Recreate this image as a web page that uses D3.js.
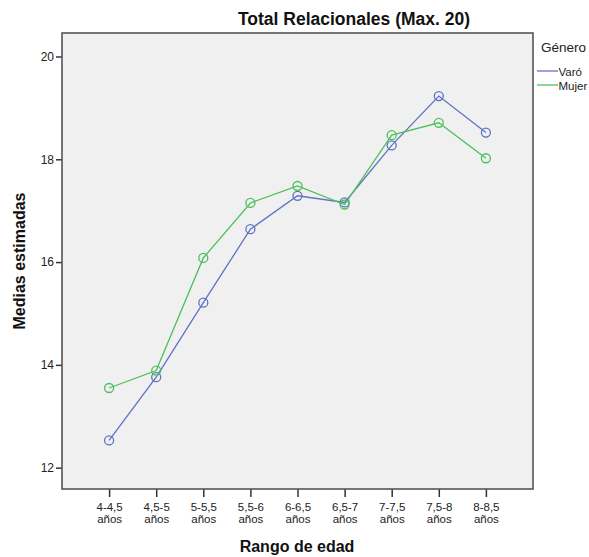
<!DOCTYPE html>
<html><head><meta charset="utf-8">
<script src="https://cdn.jsdelivr.net/npm/d3@7"></script>
<style>html,body{margin:0;padding:0;background:#fff;overflow:hidden}</style>
</head><body>
<svg id="c" width="589" height="557"></svg>
<script>
const categories = ["4-4,5 años","4,5-5 años","5-5,5 años","5,5-6 años","6-6,5 años","6,5-7 años","7-7,5 años","7,5-8 años","8-8,5 años"];
const varon = [12.53, 13.76, 15.21, 16.64, 17.29, 17.16, 18.27, 19.23, 18.52];
const mujer = [13.55, 13.89, 16.08, 17.15, 17.48, 17.12, 18.47, 18.71, 18.02];
const seriesNames = ["Varó", "Mujer"];
const yTicks = [12, 14, 16, 18, 20];
const colors = ["#5f72c4", "#4cc05a"];

const svg = d3.select("#c");
const L = 62, R = 533, T = 33, B = 489;
const x = d3.scalePoint().domain(categories).range([L, R]).padding(1);
const y = d3.scaleLinear().domain([11.585, 20.457]).range([B, T]);
const font = "'Liberation Sans', Arial, sans-serif";

svg.append("rect").attr("x", L).attr("y", T).attr("width", R - L).attr("height", B - T)
  .attr("fill", "#f0f0f0");

// y axis
const ya = svg.append("g").attr("transform", `translate(${L},0)`)
  .call(d3.axisLeft(y).tickValues(yTicks).tickSize(6).tickPadding(2));
ya.select(".domain").remove();
ya.selectAll("line").attr("stroke", "#333").attr("stroke-width", 1.5);
ya.selectAll("text").attr("font-family", font).attr("font-size", 12).attr("fill", "#222");

// x axis
const xa = svg.append("g").attr("transform", `translate(0,${B})`)
  .call(d3.axisBottom(x).tickSize(8).tickFormat(""));
xa.select(".domain").remove();
xa.selectAll("line").attr("stroke", "#333").attr("stroke-width", 1.5);
xa.selectAll(".tick").each(function(d) {
  const g = d3.select(this);
  const parts = d.split(" ");
  parts.forEach((p, i) => {
    g.append("text").attr("x", 0).attr("y", 22 + i * 11.5).attr("text-anchor", "middle")
      .attr("font-family", font).attr("font-size", 11.5).attr("fill", "#222").text(p);
  });
});

// frame
svg.append("rect").attr("x", L).attr("y", T).attr("width", R - L).attr("height", B - T)
  .attr("fill", "none").attr("stroke", "#555").attr("stroke-width", 1.6);

const data = [varon, mujer];
const line = d3.line().x((d, i) => x(categories[i])).y(d => y(d));
data.forEach((s, k) => {
  svg.append("path").datum(s).attr("d", line).attr("fill", "none")
    .attr("stroke", colors[k]).attr("stroke-width", 1.3);
  svg.selectAll(null).data(s).enter().append("circle")
    .attr("cx", (d, i) => x(categories[i])).attr("cy", d => y(d)).attr("r", 4.5)
    .attr("fill", "none").attr("stroke", colors[k]).attr("stroke-width", 1.3);
});

// titles
svg.append("text").attr("x", 354).attr("y", 25).attr("text-anchor", "middle")
  .attr("font-family", font).attr("font-weight", "bold").attr("font-size", 17.5)
  .attr("fill", "#111").text("Total Relacionales (Max. 20)");
svg.append("text").attr("x", 297).attr("y", 552).attr("text-anchor", "middle")
  .attr("font-family", font).attr("font-weight", "bold").attr("font-size", 16)
  .attr("fill", "#111").text("Rango de edad");
svg.append("text").attr("transform", "translate(25,261) rotate(-90)").attr("text-anchor", "middle")
  .attr("font-family", font).attr("font-weight", "bold").attr("font-size", 16)
  .attr("fill", "#111").text("Medias estimadas");

// legend
svg.append("text").attr("x", 541).attr("y", 52).attr("font-family", font)
  .attr("font-size", 13.5).attr("fill", "#222").text("Género");
seriesNames.forEach((n, k) => {
  const yy = 71 + k * 14;
  svg.append("line").attr("x1", 537).attr("x2", 558).attr("y1", yy).attr("y2", yy)
    .attr("stroke", colors[k]).attr("stroke-width", 1.3);
  svg.append("text").attr("x", 558.5).attr("y", yy + 4.5).attr("font-family", font)
    .attr("font-size", 11.5).attr("fill", "#222").text(n);
});
</script>
</body></html>
